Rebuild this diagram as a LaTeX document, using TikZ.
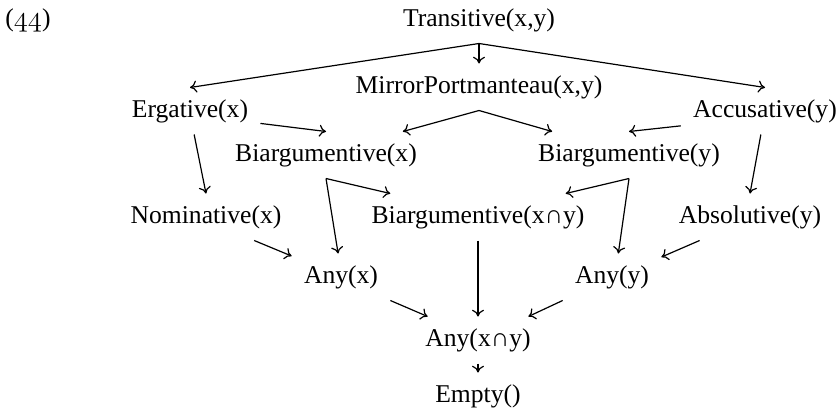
\documentclass[tikz,border=0pt]{standalone}
\usepackage{fontspec}
\setmainfont{Liberation Serif}
\usetikzlibrary{arrows.meta}
\begin{document}
\begin{tikzpicture}[x=0.5pt,y=-0.5pt,
  lbl/.style={font=\fontsize{12.8}{15}\selectfont, text height=8.8pt, text depth=2.3pt, inner xsep=6pt, inner ysep=6pt},
  edge/.style={-{Computer Modern Rightarrow[length=3.4pt,width=6pt]}, line width=0.6pt}]
\useasboundingbox (0,0) rectangle (840,412);
\node[lbl] (num) at (28,20) {({\fontsize{15}{15}\usefont{OML}{cmm}{m}{it}44})};
\node[lbl] (T) at (479,20) {Transitive(x,y)};
\node[lbl] (M) at (479,87) {MirrorPortmanteau(x,y)};
\node[lbl] (E) at (190,111) {Ergative(x)};
\node[lbl] (A) at (765,111) {Accusative(y)};
\node[lbl] (Bx) at (326,155) {Biargumentive(x)};
\node[lbl] (By) at (629,155) {Biargumentive(y)};
\node[lbl] (N) at (206,217) {Nominative(x)};
\node[lbl] (Bxy) at (478,217) {Biargumentive(x∩y)};
\node[lbl] (Ab) at (750,217) {Absolutive(y)};
\node[lbl] (Ax) at (341,277) {Any(x)};
\node[lbl] (Ay) at (612,277) {Any(y)};
\node[lbl] (Axy) at (478,340) {Any(x∩y)};
\node[lbl] (Em) at (478,396) {Empty()};
\draw[edge] (T.south) -- (E.north);
\draw[edge] (T.south) -- (M.north);
\draw[edge] (T.south) -- (A.north);
\draw[edge] (M.south) -- (Bx.17);
\draw[edge] (M.south) -- (By.163);
\draw[edge] (E.-10) -- (Bx.north);
\draw[edge] (A.190) -- (By.north);
\draw[edge] (E.-80) -- (N.north);
\draw[edge] (A.-100) -- (Ab.north);
\draw[edge] (Bx.south) -- (Ax.97);
\draw[edge] (Bx.south) -- (Bxy.165);
\draw[edge] (By.south) -- (Bxy.15);
\draw[edge] (By.south) -- (Ay.75);
\draw[edge] (N.-26) -- (Ax.157);
\draw[edge] (Ab.205) -- (Ay.22);
\draw[edge] (Bxy.south) -- (Axy.north);
\draw[edge] (Ax.south east) -- (Axy.155);
\draw[edge] (Ay.south west) -- (Axy.25);
\draw[edge] (Axy.south) -- (Em.north);
\end{tikzpicture}
\end{document}
